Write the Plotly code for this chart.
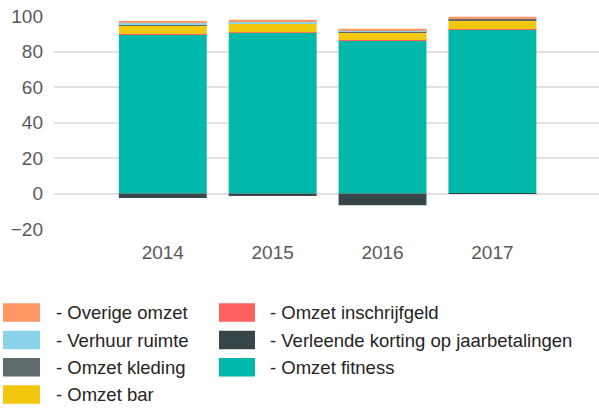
import plotly.graph_objects as go

years = ["2014", "2015", "2016", "2017"]
omzet_fitness = [89.4, 90.6, 86.0, 92.4]
omzet_inschrijfgeld = [0.4, 0.3, 0.5, 0.3]
omzet_bar = [5.0, 4.6, 4.4, 4.7]
omzet_kleding = [0.6, 0.5, 0.6, 1.0]
verhuur_ruimte = [0.7, 1.0, 0.6, 0.3]
overige_omzet = [0.9, 0.9, 0.7, 0.9]
verleende_korting = [-2.5, -1.4, -6.6, -0.2]

y_ticks = [-20, 0, 20, 40, 60, 80, 100]

W, H = 599, 410
L, R, T, B = 54, 0, 16, 181
PW, PH = W - L - R, H - T - B

series = [
    ("Omzet fitness", omzet_fitness, "#01B8AA"),
    ("Omzet inschrijfgeld", omzet_inschrijfgeld, "#FD625E"),
    ("Omzet bar", omzet_bar, "#F2C80F"),
    ("Omzet kleding", omzet_kleding, "#5F6B6D"),
    ("Verhuur ruimte", verhuur_ruimte, "#8AD4EB"),
    ("Overige omzet", overige_omzet, "#FE9666"),
    ("Verleende korting op jaarbetalingen", verleende_korting, "#374649"),
]
colors = {n: c for n, _, c in series}

fig = go.Figure()
for name, vals, col in series:
    fig.add_trace(go.Bar(
        x=years, y=vals, name=name, marker_color=col,
        marker_line_width=0, width=0.8, showlegend=False,
    ))

def px(X):
    return (X - L) / PW

def py(Y):
    return (T + PH - Y) / PH

legend_items = [
    ("Overige omzet", 0, 0), ("Verhuur ruimte", 0, 1), ("Omzet kleding", 0, 2), ("Omzet bar", 0, 3),
    ("Omzet inschrijfgeld", 1, 0), ("Verleende korting op jaarbetalingen", 1, 1), ("Omzet fitness", 1, 2),
]
col_sw = [(3, 40, 54), (219, 255, 268)]
row_c = [312.5, 340, 367.3, 394.5]
shapes = []
annotations = []
for name, c, r in legend_items:
    x0, x1, tx = col_sw[c]
    yc = row_c[r]
    shapes.append(dict(type="rect", xref="paper", yref="paper",
                       x0=px(x0), x1=px(x1), y0=py(yc + 9.3), y1=py(yc - 9.3),
                       fillcolor=colors[name], line=dict(width=0)))
    annotations.append(dict(xref="paper", yref="paper", x=px(tx), y=py(yc),
                            xanchor="left", yanchor="middle", showarrow=False,
                            text="- " + name,
                            font=dict(family="Liberation Sans, Arial, sans-serif", size=18.5, color="#252423")))

fig.update_layout(
    width=W, height=H,
    margin=dict(l=L, r=R, t=T, b=B, autoexpand=False),
    barmode="relative",
    plot_bgcolor="white", paper_bgcolor="white",
    showlegend=False,
    shapes=shapes, annotations=annotations,
    xaxis=dict(
        type="category", range=[-0.99, 3.97], showgrid=False, showline=False,
        automargin=False,
        ticks="", tickfont=dict(family="Liberation Sans, Arial, sans-serif", size=19, color="#595959"),
        ticklabelstandoff=10,
    ),
    yaxis=dict(
        range=[-20, 100], tickvals=y_ticks, showgrid=True, gridcolor="#e1e1e1", gridwidth=2,
        zeroline=False, showline=False, ticks="", automargin=False,
        tickfont=dict(family="Liberation Sans, Arial, sans-serif", size=19, color="#595959"),
        ticklabelstandoff=10,
    ),
)

fig.write_html("out.html", config={"displayModeBar": False},
               post_script="document.body.style.margin='0';document.body.style.overflow='hidden';")
